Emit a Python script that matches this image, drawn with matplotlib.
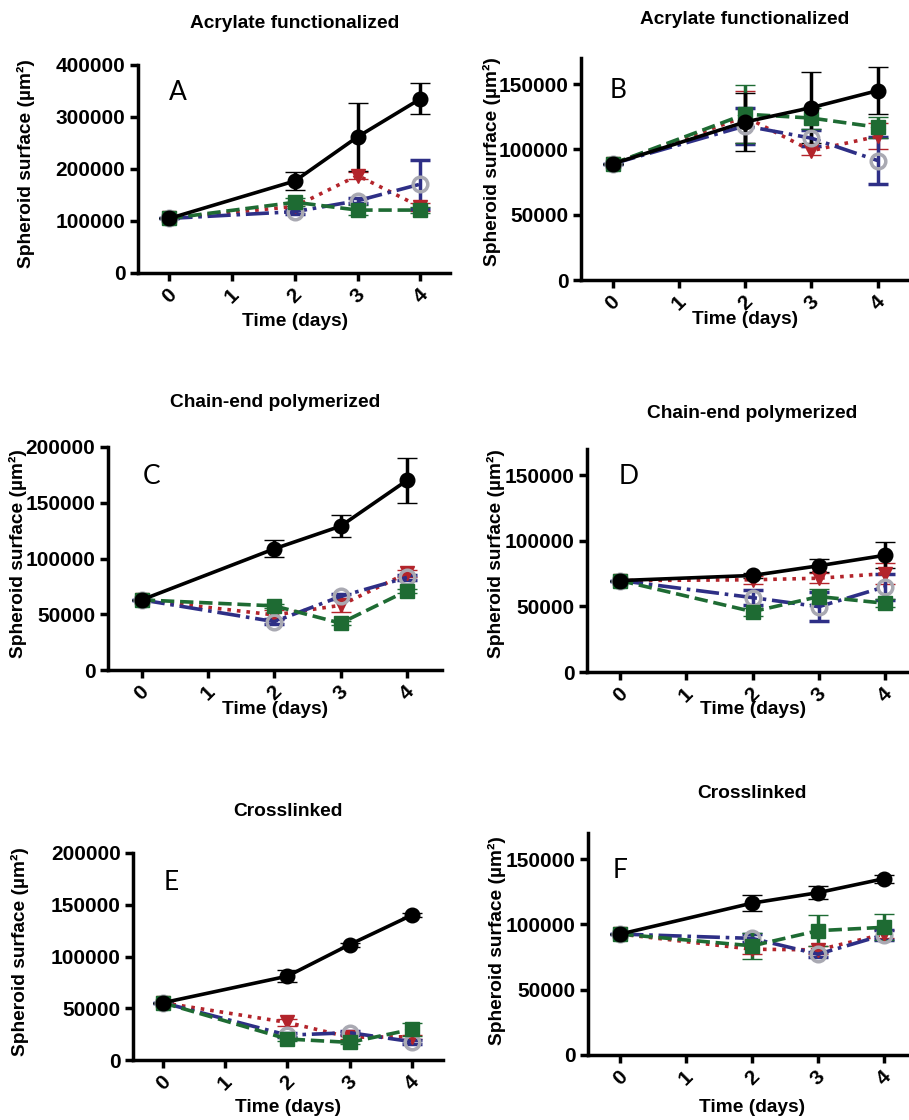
import numpy as np
import matplotlib.pyplot as plt

plt.rcParams['font.family'] = ['Liberation Sans', 'DejaVu Sans']
plt.rcParams['font.weight'] = 'bold'

days = [0, 2, 3, 4]
day_ticks = [0, 1, 2, 3, 4]

# A - acrylate functionalized (left)
a_black = [105000, 177000, 262000, 335000]
a_black_err = [0, 17500, 65000, 30000]
a_red = [105000, 128000, 187500, 127000]
a_red_err = [0, 5000, 6000, 8000]
a_blue = [105000, 118000, 139000, 171000]
a_blue_err = [0, 5000, 5000, 47000]
a_green = [105000, 136000, 121000, 121000]
a_green_err = [0, 8000, 10000, 5000]

# B - acrylate functionalized (right)
b_black = [89000, 121000, 132000, 145000]
b_black_err = [0, 22500, 27000, 18000]
b_red = [89000, 125000, 99000, 110000]
b_red_err = [0, 20000, 3000, 10000]
b_blue = [89000, 118000, 108600, 91500]
b_blue_err = [0, 14000, 6000, 18000]
b_green = [89000, 127000, 124000, 117000]
b_green_err = [0, 22000, 8000, 8000]

# C - chain-end polymerized (left)
c_black = [62900, 108700, 129000, 170000]
c_black_err = [0, 7500, 10000, 20000]
c_red = [62900, 49400, 58000, 86800]
c_red_err = [0, 4000, 6000, 3000]
c_blue = [62900, 43400, 66000, 83000]
c_blue_err = [0, 2000, 2000, 2000]
c_green = [62900, 57500, 42000, 71000]
c_green_err = [0, 2000, 2000, 2000]

# D - chain-end polymerized (right)
d_black = [69700, 73600, 81000, 89000]
d_black_err = [0, 2000, 5000, 10000]
d_red = [69700, 70300, 71500, 75000]
d_red_err = [0, 3000, 4000, 8000]
d_blue = [69700, 56700, 49800, 65000]
d_blue_err = [0, 6000, 11000, 10000]
d_green = [69700, 46000, 57500, 52400]
d_green_err = [0, 3000, 6000, 3000]

# E - crosslinked (left)
e_black = [55300, 81000, 111500, 140000]
e_black_err = [0, 6000, 2000, 2000]
e_red = [55300, 36300, 21900, 22500]
e_red_err = [0, 3000, 2000, 2000]
e_blue = [55300, 24000, 26400, 17700]
e_blue_err = [0, 2000, 2000, 2000]
e_green = [55300, 20300, 17000, 29600]
e_green_err = [0, 2000, 2000, 6000]

# F - crosslinked (right)
f_black = [92600, 116300, 124300, 135000]
f_black_err = [0, 6000, 5000, 3000]
f_red = [92600, 81000, 80500, 92600]
f_red_err = [0, 4000, 3000, 3000]
f_blue = [92600, 89300, 77200, 92000]
f_blue_err = [0, 3000, 2000, 4000]
f_green = [92600, 83600, 95200, 97800]
f_green_err = [0, 10000, 12000, 10000]

W, H = 909, 1120

def rect(l, r, t, b):
    return [l / W, 1 - b / H, (r - l) / W, (b - t) / H]

def fpos(x, y):
    return x / W, 1 - y / H

styles = {
    'red': dict(color='#b3242b', ls=':', marker='v', mfc='#b3242b', mec='#b3242b'),
    'blue': dict(color='#2e2f86', ls='-.', marker='o', mfc='none', mec='#a9a9b2', mew=2.5),
    'green': dict(color='#1e6b33', ls='--', marker='s', mfc='#1e6b33', mec='#1e6b33'),
    'black': dict(color='black', ls='-', marker='o', mfc='black', mec='black'),
}

panels = [
    dict(letter='A', title='Acrylate functionalized', box=(138, 450, 65, 273), ylim=400000, step=100000,
         xlim=(-0.5, 4.47), data=[(a_red, a_red_err, 'red'), (a_blue, a_blue_err, 'blue'),
                                  (a_green, a_green_err, 'green'), (a_black, a_black_err, 'black')],
         tpos=(295, 23), lpos=(178, 92), xl=(295, 322), yl=(26, 164)),
    dict(letter='B', title='Acrylate functionalized', box=(581, 908, 58, 280), ylim=170000, step=50000,
         xlim=(-0.48, 4.46), data=[(b_red, b_red_err, 'red'), (b_blue, b_blue_err, 'blue'),
                                   (b_green, b_green_err, 'green'), (b_black, b_black_err, 'black')],
         tpos=(745, 20), lpos=(618, 91), xl=(745, 320), yl=(492, 162)),
    dict(letter='C', title='Chain-end polymerized', box=(108, 442, 447, 670), ylim=200000, step=50000,
         xlim=(-0.51, 4.53), data=[(c_red, c_red_err, 'red'), (c_blue, c_blue_err, 'blue'),
                                   (c_green, c_green_err, 'green'), (c_black, c_black_err, 'black')],
         tpos=(275, 402), lpos=(152, 477), xl=(275, 710), yl=(18, 554)),
    dict(letter='D', title='Chain-end polymerized', box=(587, 909, 449, 672), ylim=170000, step=50000,
         xlim=(-0.5, 4.36), data=[(d_red, d_red_err, 'red'), (d_blue, d_blue_err, 'blue'),
                                  (d_green, d_green_err, 'green'), (d_black, d_black_err, 'black')],
         tpos=(752, 414), lpos=(629, 477), xl=(753, 710), yl=(496, 554)),
    dict(letter='E', title='Crosslinked', box=(133, 443, 853, 1060), ylim=200000, step=50000,
         xlim=(-0.48, 4.5), data=[(e_red, e_red_err, 'red'), (e_blue, e_blue_err, 'blue'),
                                  (e_green, e_green_err, 'green'), (e_black, e_black_err, 'black')],
         tpos=(288, 811), lpos=(171, 882), xl=(288, 1108), yl=(20, 952)),
    dict(letter='F', title='Crosslinked', box=(588, 909, 833, 1055), ylim=170000, step=50000,
         xlim=(-0.49, 4.38), data=[(f_red, f_red_err, 'red'), (f_blue, f_blue_err, 'blue'),
                                   (f_green, f_green_err, 'green'), (f_black, f_black_err, 'black')],
         tpos=(752, 793), lpos=(620, 870), xl=(752, 1108), yl=(497, 941)),
]

fig = plt.figure(figsize=(W / 100, H / 100), dpi=100)

for p in panels:
    ax = fig.add_axes(rect(*p['box']))
    for vals, errs, key in p['data']:
        st = styles[key]
        ax.errorbar(days, vals, yerr=errs, color=st['color'], ls=st['ls'], lw=2.6,
                    marker=st['marker'], ms=10.5, mfc=st['mfc'], mec=st['mec'], mew=st.get('mew', 1),
                    capsize=7, capthick=2.5, elinewidth=2.5, clip_on=False)
    ax.set_xlim(*p['xlim'])
    ax.set_ylim(0, p['ylim'])
    ax.set_yticks(np.arange(0, p['ylim'] + 1, p['step']))
    ax.set_xticks(day_ticks)
    ax.set_xticklabels([str(d) for d in day_ticks], rotation=45, ha='center', va='top')
    ax.spines['top'].set_visible(False)
    ax.spines['right'].set_visible(False)
    ax.spines['left'].set_linewidth(2.5)
    ax.spines['bottom'].set_linewidth(2.5)
    ax.tick_params(width=2.5, length=6, labelsize=15, pad=3)
    fig.text(*fpos(*p['tpos']), p['title'], ha='center', va='center', fontsize=13.8)
    fig.text(*fpos(*p['lpos']), p['letter'], ha='center', va='center', fontsize=19,
             fontweight='normal', family='Lato')
    fig.text(*fpos(*p['xl']), 'Time (days)', ha='center', va='center', fontsize=13.8)
    fig.text(*fpos(*p['yl']), 'Spheroid surface (µm²)', ha='center', va='center',
             rotation=90, fontsize=13.8)

fig.savefig('out.png', dpi=100)
